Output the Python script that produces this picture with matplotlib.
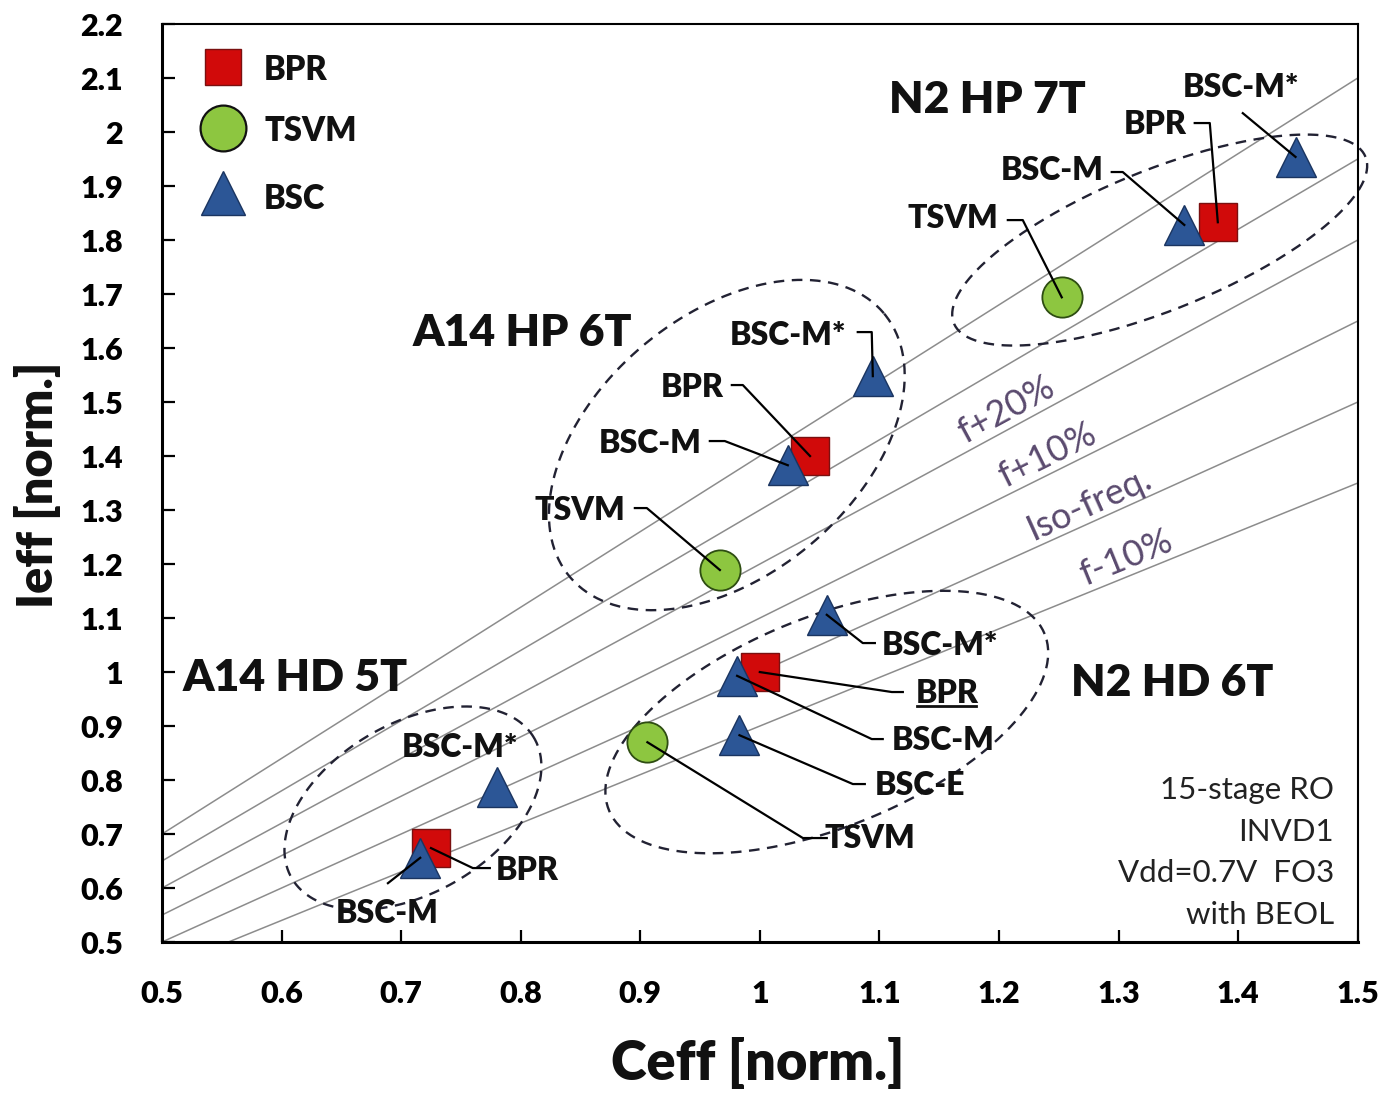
import numpy as np
import matplotlib
matplotlib.use("Agg")
import matplotlib.pyplot as plt

plt.rcParams["font.family"] = ["Lato", "DejaVu Sans"]
W = "heavy"

# ---- data ----
bpr_x = [1.383, 1.042, 1.000, 0.725]
bpr_y = [1.833, 1.400, 1.000, 0.674]
tsvm_x = [1.2525, 0.9666, 0.906]
tsvm_y = [1.694, 1.189, 0.870]
bsc_x = [1.355, 1.448, 1.0234, 1.0945, 0.981, 1.056, 0.983, 0.716, 0.780]
bsc_y = [1.828, 1.954, 1.383, 1.548, 0.993, 1.106, 0.883, 0.656, 0.787]

iso_slopes = [0.9, 1.0, 1.1, 1.2, 1.3, 1.4]
iso_labels = {0.9: "f-10%", 1.0: "Iso-freq.", 1.1: "f+10%", 1.2: "f+20%"}
iso_label_x = {0.9: 1.3119, 1.0: 1.2818, 1.1: 1.2467, 1.2: 1.2132}

x_ticks = [0.5, 0.6, 0.7, 0.8, 0.9, 1.0, 1.1, 1.2, 1.3, 1.4, 1.5]
y_ticks = [0.5, 0.6, 0.7, 0.8, 0.9, 1.0, 1.1, 1.2, 1.3, 1.4, 1.5, 1.6,
           1.7, 1.8, 1.9, 2.0, 2.1, 2.2]

# group titles: (text, x, y)
groups = [("N2 HP 7T", 1.1906, 2.059), ("A14 HP 6T", 0.8018, 1.6278),
          ("A14 HD 5T", 0.6112, 0.9889), ("N2 HD 6T", 1.3445, 0.9796)]

# group ellipses: center (data), semi axes in px, angle in deg (screen)
ellipses = [((1.3344, 1.80), 222, 70, 22), ((0.9724, 1.4204), 205, 130, 40),
            ((1.056, 0.9074), 235, 105, 22), ((0.7099, 0.7481), 140, 85, 30)]

# point labels: (series, index, text, tx, ty, leader elbows)
callouts = [
    ("tsvm", 0, "TSVM", 1.1614, 1.8407, [(1.2199, 1.837), (1.2074, 1.837)]),
    ("bsc", 0, "BSC-M", 1.2441, 1.9296, [(1.3035, 1.926), (1.2943, 1.926)]),
    ("bpr", 0, "BPR", 1.3311, 2.0148, [(1.3763, 2.0167), (1.3637, 2.0167)]),
    ("bsc", 1, "BSC-M*", 1.4022, 2.0833, [(1.4039, 2.035)]),
    ("bsc", 3, "BSC-M*", 1.0234, 1.624, [(1.0936, 1.6296), (1.0819, 1.6296)]),
    ("bpr", 1, "BPR", 0.9431, 1.5278, [(0.9858, 1.5315), (0.9766, 1.5315)]),
    ("bsc", 2, "BSC-M", 0.908, 1.424, [(0.9707, 1.4278), (0.9582, 1.4278)]),
    ("tsvm", 1, "TSVM", 0.8495, 1.30, [(0.9055, 1.3037), (0.8955, 1.3037)]),
    ("bsc", 5, "BSC-M*", 1.1505, 1.05, [(1.0861, 1.0537), (1.0962, 1.0537)]),
    ("bpr", 2, "BPR", 1.1564, 0.9611, [(1.1104, 0.963), (1.1196, 0.963)]),
    ("bsc", 4, "BSC-M", 1.153, 0.874, [(1.0936, 0.8759), (1.1028, 0.8759)]),
    ("bsc", 6, "BSC-E", 1.1338, 0.7907, [(1.0778, 0.7926), (1.0878, 0.7926)]),
    ("tsvm", 2, "TSVM", 1.092, 0.6926, [(1.036, 0.6926), (1.056, 0.6926)]),
    ("bsc", 8, "BSC-M*", 0.7492, 0.8611, []),
    ("bpr", 3, "BPR", 0.8052, 0.6333, [(0.76, 0.637), (0.7742, 0.637)]),
    ("bsc", 7, "BSC-M", 0.6881, 0.5537, [(0.689, 0.609)]),
]

note_lines = ["15-stage RO", "INVD1", "Vdd=0.7V  FO3", "with BEOL"]

RED, RED_E = "#d10a0a", "#7a1010"
GREEN, GREEN_E = "#8dc640", "#2e4d12"
BLUE, BLUE_E = "#2c5696", "#1a3460"

fig = plt.figure(figsize=(13.84, 11.04), dpi=100)
ax = fig.add_axes([0.117, 0.1467, 0.864, 0.8315])
ax.set_xlim(0.5, 1.5)
ax.set_ylim(0.5, 2.2)

# iso-frequency lines
xx = np.array([0.0, 1.6])
for k in iso_slopes:
    ax.plot(xx, k * xx, color="#8c8c8c", lw=1.1, zorder=1)

# label the lines, rotated to the on-screen slope
for k, lab in iso_labels.items():
    p0 = ax.transData.transform((1.0, k))
    p1 = ax.transData.transform((1.5, 1.5 * k))
    ang = np.degrees(np.arctan2(p1[1] - p0[1], p1[0] - p0[0]))
    lx = iso_label_x[k]
    # shift label above the line by a few pixels
    base = ax.transData.transform((lx, k * lx))
    nrm = np.array([-np.sin(np.radians(ang)), np.cos(np.radians(ang))])
    pos = ax.transData.inverted().transform(base + nrm * 18)
    ax.text(pos[0], pos[1], lab, rotation=ang, rotation_mode="anchor",
            ha="center", va="center", fontsize=26, color="#5a4a6e", zorder=2)

# dashed group ellipses
t = np.linspace(0, 2 * np.pi, 300)
for (cx, cy), a, b, ang in ellipses:
    th = np.radians(ang)
    ex = a * np.cos(t) * np.cos(th) - b * np.sin(t) * np.sin(th)
    ey = a * np.cos(t) * np.sin(th) + b * np.sin(t) * np.cos(th)
    c = ax.transData.transform((cx, cy))
    pts = ax.transData.inverted().transform(np.column_stack([c[0] + ex, c[1] + ey]))
    ax.plot(pts[:, 0], pts[:, 1], color="#222233", lw=1.7, ls=(0, (4.5, 3.2)),
            zorder=2, clip_on=False)

# markers
ax.plot(tsvm_x, tsvm_y, "o", ms=29, mfc=GREEN, mec=GREEN_E, mew=1.3, ls="none", zorder=4)
ax.plot(bpr_x, bpr_y, "s", ms=28, mfc=RED, mec=RED_E, mew=1.0, ls="none", zorder=4)
ax.plot(bsc_x, bsc_y, "^", ms=29, mfc=BLUE, mec=BLUE_E, mew=1.0, ls="none", zorder=4)

series = {"bpr": (bpr_x, bpr_y), "tsvm": (tsvm_x, tsvm_y), "bsc": (bsc_x, bsc_y)}
lab_texts = []
for name, i, txt, tx, ty, elbows in callouts:
    sx, sy = series[name]
    path = [(sx[i], sy[i])] + elbows
    if len(path) > 1:
        px, py = zip(*path)
        ax.plot(px, py, color="black", lw=1.6, zorder=5)
    tobj = ax.text(tx, ty, txt, ha="center", va="center", fontsize=23,
                   fontweight=W, color="#111111", zorder=6)
    lab_texts.append((name, i, tobj))

for txt, gx, gy in groups:
    ax.text(gx, gy, txt, ha="center", va="center", fontsize=32,
            fontweight=W, color="#111111", zorder=6)

ax.text(0.98, 0.0975, "\n".join(note_lines), transform=ax.transAxes,
        ha="right", va="center", multialignment="right", linespacing=1.6,
        fontsize=22.5, color="#222222")

# legend drawn by hand
ax.plot([0.051], [0.953], "s", ms=26, mfc=RED, mec=RED_E, mew=1.0,
        transform=ax.transAxes, clip_on=False)
ax.plot([0.051], [0.8867], "o", ms=33, mfc=GREEN, mec="#111111", mew=1.6,
        transform=ax.transAxes, clip_on=False)
ax.plot([0.051], [0.816], "^", ms=32, mfc=BLUE, mec=BLUE_E, mew=1.0,
        transform=ax.transAxes, clip_on=False)
for lab, ly in [("BPR", 0.950), ("TSVM", 0.8834), ("BSC", 0.8094)]:
    ax.text(0.0855, ly, lab, transform=ax.transAxes, ha="left", va="center",
            fontsize=23.5, fontweight=W, color="#111111")

# axes styling
ax.set_xticks(x_ticks)
ax.set_yticks(y_ticks)
ax.set_xticklabels([f"{v:g}" for v in x_ticks])
ax.set_yticklabels([f"{v:g}" for v in y_ticks])
ax.tick_params(axis="both", direction="in", length=9, width=1.6,
               labelsize=22, top=False, right=False)
ax.tick_params(axis="x", pad=27)
ax.tick_params(axis="y", pad=28)
for lbl in ax.get_xticklabels() + ax.get_yticklabels():
    lbl.set_fontweight(W)
for side in ["left", "bottom"]:
    ax.spines[side].set_linewidth(2.2)
for side in ["top", "right"]:
    ax.spines[side].set_linewidth(1.5)

fig.text(38 / 1384, 1 - 485 / 1104, "Ieff [norm.]", rotation=90, ha="center",
         va="center", fontsize=35, fontweight=W, color="#111111")
fig.text(758 / 1384, 1 - 1063 / 1104, "Ceff [norm.]", ha="center", va="center",
         fontsize=39, fontweight=W, color="#111111")

# underline the N2 HD BPR label
fig.canvas.draw()
rend = fig.canvas.get_renderer()
for name, i, tobj in lab_texts:
    if name == "bpr" and i == 2:
        bb = tobj.get_window_extent(rend)
        inv = ax.transData.inverted()
        (x0, y0), (x1, _) = inv.transform([(bb.x0 + 2, bb.y0 + 2), (bb.x1 - 2, bb.y0 + 2)])
        ax.plot([x0, x1], [y0, y0], color="#111111", lw=2.0, zorder=6)

fig.savefig("out.png", dpi=100)
